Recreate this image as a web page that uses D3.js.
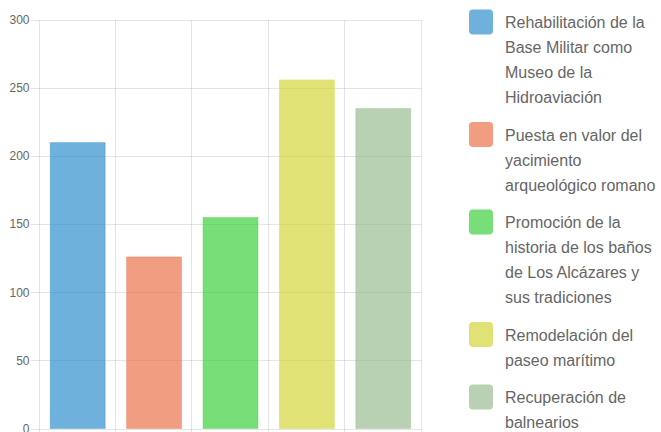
<!DOCTYPE html>
<html>
<head>
<meta charset="utf-8">
<script src="https://cdn.jsdelivr.net/npm/d3@7"></script>
<style>
  html, body { margin: 0; padding: 0; background: #fff; }
  svg { display: block; font-family: "Liberation Sans", Arial, Helvetica, sans-serif; }
</style>
</head>
<body>
<svg id="chart" width="661" height="432"></svg>
<script>
// Projects and their scores
const categories = [
  "Rehabilitación de la Base Militar como Museo de la Hidroaviación",
  "Puesta en valor del yacimiento arqueológico romano",
  "Promoción de la historia de los baños de Los Alcázares y sus tradiciones",
  "Remodelación del paseo marítimo",
  "Recuperación de balnearios"
];
const values = [210, 126, 155, 256, 235];
const colors = [
  "rgba(49,144,206,0.7)",
  "rgba(234,116,76,0.7)",
  "rgba(62,208,62,0.7)",
  "rgba(211,214,59,0.7)",
  "rgba(152,189,145,0.7)"
];
const legendLines = [
  ["Rehabilitación de la", "Base Militar como", "Museo de la", "Hidroaviación"],
  ["Puesta en valor del", "yacimiento", "arqueológico romano"],
  ["Promoción de la", "historia de los baños", "de Los Alcázares y", "sus tradiciones"],
  ["Remodelación del", "paseo marítimo"],
  ["Recuperación de", "balnearios"]
];
const yTicks = [0, 50, 100, 150, 200, 250, 300];

const svg = d3.select("#chart");
const plot = { left: 39.5, right: 421.5, top: 20, bottom: 428.5 };

const x = d3.scaleBand().domain(categories).range([plot.left, plot.right]).padding(0);
const y = d3.scaleLinear().domain([0, 300]).range([plot.bottom, plot.top]);

const grid = svg.append("g").attr("stroke", "rgba(0,0,0,0.1)").attr("stroke-width", 1);

// horizontal grid lines with short tick marks on the left
grid.selectAll("line.h").data(yTicks).join("line")
  .attr("class", "h")
  .attr("x1", plot.left - 9).attr("x2", plot.right)
  .attr("y1", d => Math.round(y(d)) + 0.5).attr("y2", d => Math.round(y(d)) + 0.5);

// vertical grid lines at category boundaries
const xEdges = categories.map(c => x(c)).concat([plot.right]);
grid.selectAll("line.v").data(xEdges).join("line")
  .attr("class", "v")
  .attr("x1", d => Math.round(d) - 0.5).attr("x2", d => Math.round(d) - 0.5)
  .attr("y1", plot.top).attr("y2", plot.bottom + 4);

// y tick labels
svg.append("g").selectAll("text").data(yTicks).join("text")
  .attr("x", plot.left - 10)
  .attr("y", d => y(d))
  .attr("dy", "0.35em")
  .attr("text-anchor", "end")
  .attr("font-size", 12)
  .attr("fill", "#666")
  .text(d => d);

// bars
const bw = x.bandwidth() * 0.72;
svg.append("g").selectAll("rect").data(values).join("rect")
  .attr("x", (d, i) => x(categories[i]) + (x.bandwidth() - bw) / 2)
  .attr("width", bw)
  .attr("y", d => y(d))
  .attr("height", d => y(0) - y(d))
  .attr("fill", (d, i) => colors[i])
  .attr("stroke", (d, i) => colors[i].replace("0.7)", "0.35)"))
  .attr("stroke-width", 1);

// legend
const lineH = 25, itemGap = 12.5;
let cy = 22.5;
const legend = svg.append("g");
legendLines.forEach((lines, i) => {
  legend.append("rect")
    .attr("x", 469).attr("y", cy - 13)
    .attr("width", 24).attr("height", 25)
    .attr("rx", 4).attr("ry", 4)
    .attr("fill", colors[i]);
  lines.forEach((ln, j) => {
    legend.append("text")
      .attr("x", 505)
      .attr("y", cy + j * lineH)
      .attr("dy", "0.35em")
      .attr("font-size", 16)
      .attr("fill", "#666")
      .text(ln);
  });
  cy += lines.length * lineH + itemGap;
});
</script>
</body>
</html>
